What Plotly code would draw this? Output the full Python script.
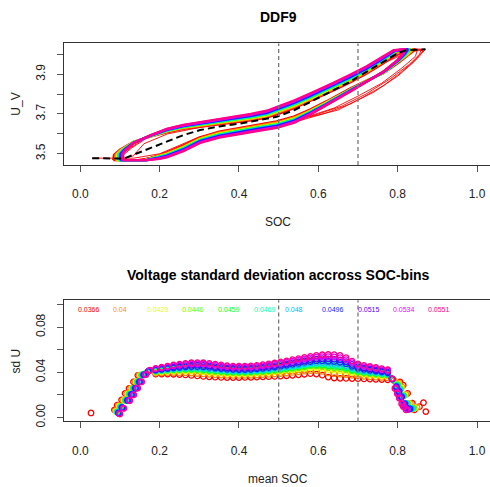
import plotly.graph_objects as go

W, H = 490, 487

# ---------------- data ----------------
COLORS = ["#FF0000", "#FF8B00", "#E8FF00", "#5DFF00", "#00FF2E", "#00FFB9",
          "#00B9FF", "#002EFF", "#5D00FF", "#E800FF", "#FF008B"]
SD_LABELS = [0.0366, 0.04, 0.0429, 0.0446, 0.0459, 0.0469, 0.048, 0.0496, 0.0515, 0.0534, 0.0551]
LABEL_X = [0.022, 0.100, 0.196, 0.284, 0.375, 0.465, 0.539, 0.636, 0.727, 0.816, 0.904]
LABEL_Y = 0.0955

# top panel: first (red) and last (pink) loop, lower branch then upper branch
RED_LOOP_X = [0.083, 0.16, 0.2, 0.218, 0.26, 0.302, 0.35, 0.403, 0.45, 0.495, 0.54, 0.579, 0.62, 0.68, 0.72, 0.764, 0.80, 0.83, 0.845,
              0.845, 0.80, 0.764, 0.722, 0.68, 0.638, 0.579, 0.54, 0.503, 0.47, 0.43, 0.386, 0.35, 0.302, 0.26, 0.218, 0.176, 0.134, 0.1, 0.085, 0.083]
RED_LOOP_V = [3.468, 3.468, 3.495, 3.507, 3.542, 3.583, 3.611, 3.631, 3.648, 3.663, 3.688, 3.722, 3.763, 3.828, 3.866, 3.905, 3.955, 4.0, 4.025,
              4.025, 4.012, 3.955, 3.903, 3.858, 3.818, 3.763, 3.73, 3.703, 3.682, 3.668, 3.657, 3.648, 3.636, 3.626, 3.608, 3.586, 3.56, 3.52, 3.495, 3.468]
PINK_LOOP_X = [0.108, 0.17, 0.2, 0.218, 0.26, 0.302, 0.35, 0.403, 0.45, 0.495, 0.54, 0.579, 0.62, 0.68, 0.72, 0.764, 0.80, 0.812, 0.818,
               0.818, 0.79, 0.764, 0.722, 0.68, 0.638, 0.579, 0.54, 0.503, 0.47, 0.43, 0.386, 0.35, 0.302, 0.26, 0.218, 0.176, 0.134, 0.115, 0.108, 0.108]
PINK_LOOP_V = [3.468, 3.468, 3.475, 3.482, 3.513, 3.555, 3.581, 3.601, 3.616, 3.630, 3.657, 3.697, 3.742, 3.812, 3.860, 3.913, 3.972, 4.0, 4.025,
               4.025, 4.02, 3.99, 3.94, 3.897, 3.856, 3.803, 3.768, 3.741, 3.716, 3.700, 3.685, 3.673, 3.658, 3.645, 3.625, 3.592, 3.553, 3.52, 3.50, 3.468]

# thin red loops (raw cycles)
THIN1_X = [0.03, 0.10, 0.135, 0.2, 0.3, 0.4, 0.5, 0.6, 0.65, 0.705, 0.764, 0.806, 0.85, 0.87,
           0.87, 0.84, 0.80, 0.72, 0.64, 0.58, 0.5, 0.4, 0.3, 0.22, 0.16, 0.134, 0.11]
THIN1_V = [3.478, 3.478, 3.478, 3.50, 3.585, 3.625, 3.655, 3.695, 3.72, 3.776, 3.842, 3.905, 3.98, 4.025,
           4.025, 4.025, 3.995, 3.90, 3.82, 3.77, 3.71, 3.665, 3.632, 3.60, 3.55, 3.49, 3.478]
THIN2_X = [0.14, 0.2, 0.3, 0.4, 0.5, 0.6, 0.66, 0.72, 0.78, 0.83, 0.855, 0.86,
           0.86, 0.83, 0.78, 0.70, 0.62, 0.55, 0.47, 0.38, 0.30, 0.22, 0.16, 0.12, 0.10]
THIN2_V = [3.47, 3.488, 3.57, 3.613, 3.645, 3.70, 3.74, 3.80, 3.875, 3.95, 4.0, 4.025,
           4.025, 4.025, 3.975, 3.885, 3.81, 3.755, 3.70, 3.672, 3.648, 3.62, 3.575, 3.52, 3.49]
THIN3_X = [0.15, 0.22, 0.3, 0.4, 0.5, 0.58, 0.64, 0.70, 0.76, 0.81, 0.845, 0.85,
           0.85, 0.82, 0.76, 0.68, 0.6, 0.52, 0.45, 0.36, 0.28, 0.2, 0.14, 0.11, 0.095]
THIN3_V = [3.47, 3.50, 3.565, 3.608, 3.64, 3.69, 3.73, 3.79, 3.855, 3.93, 3.99, 4.025,
           4.025, 4.02, 3.96, 3.875, 3.795, 3.735, 3.695, 3.668, 3.645, 3.61, 3.555, 3.51, 3.485]
THIN4_X = [0.16, 0.25, 0.35, 0.45, 0.55, 0.62, 0.68, 0.74, 0.80, 0.84, 0.865,
           0.865, 0.83, 0.77, 0.69, 0.61, 0.53, 0.44, 0.34, 0.25, 0.18, 0.13, 0.1]
THIN4_V = [3.47, 3.53, 3.595, 3.63, 3.665, 3.705, 3.75, 3.81, 3.89, 3.96, 4.02,
           4.02, 4.015, 3.96, 3.875, 3.80, 3.742, 3.69, 3.66, 3.635, 3.595, 3.53, 3.48]

MEAN_X = [0.03, 0.11, 0.134, 0.176, 0.218, 0.26, 0.302, 0.35, 0.403, 0.45, 0.495, 0.54, 0.579, 0.62, 0.68, 0.72, 0.764, 0.80, 0.82, 0.87]
MEAN_V = [3.478, 3.476, 3.495, 3.528, 3.565, 3.594, 3.619, 3.637, 3.652, 3.668, 3.686, 3.72, 3.76, 3.80, 3.862, 3.91, 3.96, 4.005, 4.02, 4.025]

# bottom panel: sd per SOC bin, first (red) and last (pink) series
RED_SD_X = [0.086, 0.093, 0.104, 0.113, 0.123, 0.134, 0.145, 0.16,
            0.19, 0.205, 0.22, 0.235, 0.25, 0.265, 0.28, 0.295, 0.31, 0.325,
            0.34, 0.355, 0.37, 0.385, 0.40, 0.415, 0.43, 0.445, 0.46, 0.475,
            0.49, 0.505, 0.52, 0.535, 0.55, 0.565, 0.58, 0.595, 0.61, 0.625,
            0.64, 0.655, 0.67, 0.685, 0.70, 0.715, 0.73, 0.745, 0.76, 0.775,
            0.79, 0.806, 0.814, 0.825, 0.837, 0.842, 0.855]
RED_SD = [0.0067, 0.011, 0.0155, 0.0213, 0.0257, 0.0315, 0.0374, 0.038,
          0.0385, 0.0385, 0.0385, 0.0383, 0.038, 0.0377, 0.0373, 0.0368, 0.0364, 0.036,
          0.0357, 0.0355, 0.0354, 0.0354, 0.0354, 0.0355, 0.0356, 0.0358, 0.036, 0.0362,
          0.0364, 0.0367, 0.037, 0.0374, 0.0378, 0.0383, 0.0388, 0.0385, 0.0375, 0.0358,
          0.035, 0.0347, 0.0346, 0.0345, 0.0344, 0.0342, 0.034, 0.0338, 0.0336, 0.0334,
          0.033, 0.0315, 0.0286, 0.0213, 0.0126, 0.0067, 0.0096]
RED_EXTRA_X = [0.027, 0.865, 0.871]
RED_EXTRA_SD = [0.004, 0.0131, 0.0052]
PINK_SD_X = [0.100, 0.110, 0.125, 0.135, 0.145, 0.155, 0.166, 0.176,
             0.19, 0.205, 0.22, 0.235, 0.25, 0.265, 0.28, 0.295, 0.31, 0.325,
             0.34, 0.355, 0.37, 0.385, 0.40, 0.415, 0.43, 0.445, 0.46, 0.475,
             0.49, 0.505, 0.52, 0.535, 0.55, 0.565, 0.58, 0.595, 0.61, 0.625,
             0.64, 0.655, 0.67, 0.685, 0.70, 0.715, 0.73, 0.745, 0.76, 0.775,
             0.785, 0.793, 0.799, 0.804, 0.81, 0.814, 0.821]
PINK_SD = [0.003, 0.008, 0.015, 0.020, 0.026, 0.0315, 0.038, 0.042,
           0.0435, 0.0445, 0.0455, 0.0465, 0.0473, 0.048, 0.0485, 0.0487, 0.0485, 0.048,
           0.0473, 0.0466, 0.046, 0.0456, 0.0455, 0.0455, 0.0457, 0.0462, 0.0468, 0.0475,
           0.0483, 0.0492, 0.0502, 0.0512, 0.0522, 0.0532, 0.0542, 0.055, 0.0556, 0.0558,
           0.0557, 0.055, 0.053, 0.05, 0.0475, 0.0462, 0.0452, 0.0443, 0.0433, 0.0423,
           0.0345, 0.0257, 0.021, 0.017, 0.012, 0.0096, 0.0067]

X_TICKS = [0.0, 0.2, 0.4, 0.6, 0.8, 1.0]
X_TICK_TEXT = ["0.0", "0.2", "0.4", "0.6", "0.8", "1.0"]
U_TICKS = [3.5, 3.6, 3.7, 3.8, 3.9, 4.0]
U_TICK_TEXT = ["3.5", "", "3.7", "", "3.9", ""]
SD_TICKS = [0.0, 0.02, 0.04, 0.06, 0.08, 0.10]
SD_TICK_TEXT = ["0.00", "", "0.04", "", "0.08", ""]
VLINES = [0.5, 0.7]

# ---------------- figure ----------------
FONT = "Liberation Sans, Arial, sans-serif"
fig = go.Figure()

# weight of each series between first and last cycle, from the printed sd values
weights = [(s - SD_LABELS[0]) / (SD_LABELS[-1] - SD_LABELS[0]) for s in SD_LABELS]

# thin raw red loops
for tx, tv in [(THIN1_X, THIN1_V), (THIN2_X, THIN2_V), (THIN3_X, THIN3_V), (THIN4_X, THIN4_V)]:
    fig.add_trace(go.Scatter(x=tx, y=tv, mode="lines", line=dict(color="#FF0000", width=0.9),
                             xaxis="x", yaxis="y", showlegend=False, hoverinfo="skip"))

for i, c in enumerate(COLORS):
    w = weights[i]
    lx = [a + (b - a) * w for a, b in zip(RED_LOOP_X, PINK_LOOP_X)]
    lv = [a + (b - a) * w for a, b in zip(RED_LOOP_V, PINK_LOOP_V)]
    fig.add_trace(go.Scatter(x=lx, y=lv, mode="lines", line=dict(color=c, width=2.4),
                             xaxis="x", yaxis="y", showlegend=False))

fig.add_trace(go.Scatter(x=MEAN_X, y=MEAN_V, mode="lines",
                         line=dict(color="black", width=2, dash="7px,4px"),
                         xaxis="x", yaxis="y", showlegend=False))

# bottom panel
for i, c in enumerate(COLORS):
    w = weights[i]
    sx = [a + (b - a) * w for a, b in zip(RED_SD_X, PINK_SD_X)]
    sv = [a + (b - a) * w for a, b in zip(RED_SD, PINK_SD)]
    if i == 0:
        sx = RED_EXTRA_X[:1] + sx + RED_EXTRA_X[1:]
        sv = RED_EXTRA_SD[:1] + sv + RED_EXTRA_SD[1:]
    fig.add_trace(go.Scatter(x=sx, y=sv, mode="markers",
                             marker=dict(symbol="circle-open", size=5.5, color=c, line=dict(width=1.3, color=c)),
                             xaxis="x2", yaxis="y2", showlegend=False))

# ---------------- layout ----------------
x0px, x1px = 64, 490
xr = [(x0px - 80.3) / 396.7, (x1px - 80.3) / 396.7]
top_box = (44, 167)
bot_box = (304, 426.7)


def pdom(box):
    return [1 - box[1] / H, 1 - box[0] / H]


axis_common = dict(showgrid=False, zeroline=False, showline=True, linecolor="#333", linewidth=1,
                   ticks="outside", ticklen=6, tickcolor="#555", tickwidth=1,
                   tickfont=dict(family=FONT, size=12, color="#222"))

fig.update_layout(
    width=W, height=H, margin=dict(l=0, r=0, t=0, b=0),
    paper_bgcolor="white", plot_bgcolor="white",
    xaxis=dict(domain=[x0px / W, 1], range=xr, anchor="y", mirror=True,
               tickvals=X_TICKS, ticktext=X_TICK_TEXT, ticklabelstandoff=12, **axis_common),
    yaxis=dict(domain=pdom(top_box), range=[3.5 + (155.7 - 167) / 201.5, 3.5 + (155.7 - 44) / 201.5],
               anchor="x", mirror=False, tickvals=U_TICKS, ticktext=U_TICK_TEXT, tickangle=-90,
               ticklabelstandoff=7, **axis_common),
    xaxis2=dict(domain=[x0px / W, 1], range=xr, anchor="y2", mirror=True,
                tickvals=X_TICKS, ticktext=X_TICK_TEXT, ticklabelstandoff=12, **axis_common),
    yaxis2=dict(domain=pdom(bot_box), range=[(422.7 - 426.7) / 1142.5, (422.7 - 304) / 1142.5],
                anchor="x2", mirror=False, tickvals=SD_TICKS, ticktext=SD_TICK_TEXT, tickangle=-90,
                ticklabelstandoff=7, **axis_common),
)

shapes = []
for v in VLINES:
    for xa, ya in [("x", "y domain"), ("x2", "y2 domain")]:
        shapes.append(dict(type="line", xref=xa, yref=ya, x0=v, x1=v, y0=0, y1=1, layer="above",
                           line=dict(color="#777", width=1.3, dash="4px,3px")))
fig.update_layout(shapes=shapes)


def label(text, xpx, ypx, size, color="#222", angle=0):
    return dict(text=text, x=xpx / W, y=1 - ypx / H, xref="paper", yref="paper",
                xanchor="center", yanchor="middle", textangle=angle,
                showarrow=False, font=dict(family=FONT, size=size, color=color))


ann = [
    label("<b>DDF9</b>", 278, 17, 14, "black"),
    label("<b>Voltage standard deviation accross SOC-bins</b>", 278, 278, 14, "black"),
    label("SOC", 278, 225, 12),
    label("mean SOC", 278, 485, 12),
    label("U_V", 16, 106, 12, angle=-90),
    label("sd U", 16, 366, 12, angle=-90),
]
for lx, s, c in zip(LABEL_X, SD_LABELS, COLORS):
    ann.append(dict(text=f"{s:g}", x=lx, y=LABEL_Y, xref="x2", yref="y2", showarrow=False,
                    xanchor="center", yanchor="middle",
                    font=dict(family=FONT, size=7, color=c)))
fig.update_layout(annotations=ann)

fig.write_html("out.html")
